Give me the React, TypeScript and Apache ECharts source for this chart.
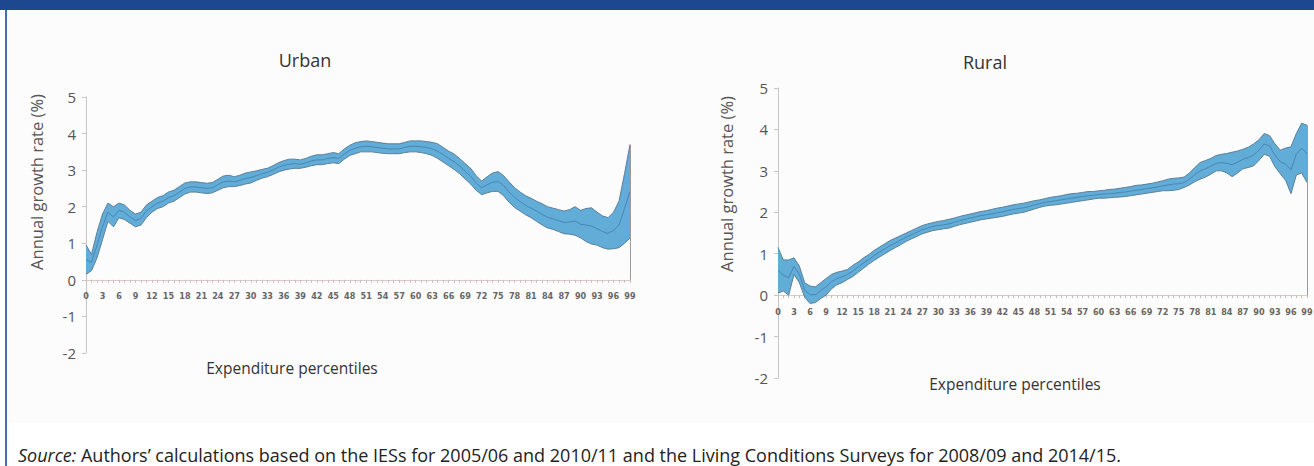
import React, { useEffect, useRef } from "react";
import * as echarts from "echarts";

// ---------- data ----------
const percentiles = [
  "0","1","2","3","4","5","6","7","8","9",
  "10","11","12","13","14","15","16","17","18","19",
  "20","21","22","23","24","25","26","27","28","29",
  "30","31","32","33","34","35","36","37","38","39",
  "40","41","42","43","44","45","46","47","48","49",
  "50","51","52","53","54","55","56","57","58","59",
  "60","61","62","63","64","65","66","67","68","69",
  "70","71","72","73","74","75","76","77","78","79",
  "80","81","82","83","84","85","86","87","88","89",
  "90","91","92","93","94","95","96","97","98","99",
];

const urbanLower = [
  0.15, 0.25, 0.6, 1.1, 1.6, 1.45, 1.7, 1.65, 1.55, 1.45,
  1.5, 1.7, 1.85, 1.95, 2.0, 2.1, 2.15, 2.25, 2.35, 2.4,
  2.4, 2.38, 2.36, 2.38, 2.45, 2.52, 2.55, 2.55, 2.58, 2.62,
  2.65, 2.72, 2.78, 2.82, 2.88, 2.95, 3.0, 3.03, 3.05, 3.05,
  3.08, 3.12, 3.15, 3.15, 3.18, 3.2, 3.18, 3.3, 3.4, 3.45,
  3.5, 3.5, 3.5, 3.48, 3.46, 3.45, 3.45, 3.45, 3.48, 3.5,
  3.5, 3.48, 3.45, 3.4, 3.32, 3.22, 3.12, 3.02, 2.9, 2.76,
  2.62, 2.45, 2.33, 2.38, 2.42, 2.42, 2.3, 2.12, 1.98, 1.88,
  1.78, 1.7, 1.6, 1.5, 1.42, 1.38, 1.32, 1.26, 1.25, 1.22,
  1.15, 1.05, 0.98, 0.95, 0.88, 0.84, 0.85, 0.88, 1.0, 1.14,
];
const urbanUpper = [
  0.95, 0.7, 1.3, 1.8, 2.1, 2.0, 2.1, 2.05, 1.9, 1.8,
  1.85, 2.05, 2.15, 2.25, 2.3, 2.4, 2.45, 2.55, 2.65, 2.68,
  2.68, 2.66, 2.64, 2.66, 2.75, 2.84, 2.86, 2.82, 2.86, 2.92,
  2.95, 2.98, 3.02, 3.05, 3.12, 3.2, 3.26, 3.3, 3.3, 3.28,
  3.32, 3.38, 3.42, 3.42, 3.45, 3.48, 3.45, 3.58, 3.68, 3.75,
  3.78, 3.8, 3.78, 3.76, 3.74, 3.72, 3.72, 3.72, 3.76, 3.8,
  3.8, 3.8, 3.78, 3.76, 3.72, 3.62, 3.52, 3.44, 3.32, 3.18,
  3.05, 2.85, 2.7, 2.82, 2.92, 2.96, 2.85, 2.68, 2.52, 2.4,
  2.3, 2.23, 2.15, 2.08, 2.0, 1.96, 1.92, 1.88, 1.92, 2.0,
  1.9, 1.95, 1.97, 1.85, 1.75, 1.7, 1.85, 2.15, 2.9, 3.7,
];
const urbanMid = [
  0.55, 0.48, 0.95, 1.45, 1.85, 1.72, 1.9, 1.85, 1.72, 1.62,
  1.68, 1.88, 2.0, 2.1, 2.15, 2.25, 2.3, 2.4, 2.5, 2.54,
  2.54, 2.52, 2.5, 2.52, 2.6, 2.68, 2.7, 2.68, 2.72, 2.77,
  2.8, 2.85, 2.9, 2.94, 3.0, 3.08, 3.13, 3.16, 3.18, 3.16,
  3.2, 3.25, 3.28, 3.28, 3.32, 3.34, 3.32, 3.44, 3.54, 3.6,
  3.64, 3.65, 3.64, 3.62, 3.6, 3.58, 3.58, 3.58, 3.62, 3.65,
  3.65, 3.64, 3.62, 3.58, 3.52, 3.42, 3.32, 3.23, 3.11, 2.97,
  2.83, 2.65, 2.52, 2.6, 2.67, 2.69, 2.58, 2.4, 2.25, 2.14,
  2.04, 1.96, 1.88, 1.79, 1.71, 1.67, 1.62, 1.57, 1.58, 1.61,
  1.52, 1.5, 1.47, 1.4, 1.32, 1.27, 1.35, 1.5, 1.95, 2.42,
];

const ruralLower = [
  0.05, 0.1, 0.0, 0.5, 0.3, -0.05, -0.2, -0.18, -0.08, 0.0,
  0.15, 0.25, 0.3, 0.38, 0.45, 0.55, 0.65, 0.75, 0.84, 0.92,
  1.0, 1.08, 1.15, 1.22, 1.3, 1.36, 1.42, 1.48, 1.52, 1.56,
  1.58, 1.6, 1.62, 1.66, 1.7, 1.73, 1.76, 1.79, 1.82, 1.84,
  1.86, 1.88, 1.9, 1.93, 1.96, 1.98, 2.0, 2.04, 2.08, 2.12,
  2.15, 2.17, 2.18, 2.2, 2.22, 2.24, 2.26, 2.28, 2.3, 2.32,
  2.34, 2.34, 2.35, 2.36, 2.37, 2.38, 2.4, 2.42, 2.44, 2.46,
  2.48, 2.5, 2.52, 2.52, 2.53, 2.55, 2.6, 2.66, 2.74, 2.8,
  2.85, 2.92, 3.0, 3.0, 2.95, 2.86, 2.95, 3.05, 3.08, 3.12,
  3.25, 3.4, 3.35, 3.1, 2.93, 2.77, 2.45, 2.9, 2.95, 2.72,
];
const ruralUpper = [
  1.15, 0.85, 0.85, 0.9, 0.7, 0.3, 0.22, 0.2, 0.3, 0.4,
  0.5, 0.55, 0.58, 0.62, 0.72, 0.8, 0.9, 0.98, 1.08, 1.16,
  1.24, 1.32, 1.38, 1.44, 1.5, 1.56, 1.62, 1.68, 1.72, 1.75,
  1.78, 1.8, 1.83, 1.86, 1.9, 1.93, 1.96, 1.99, 2.02, 2.04,
  2.07, 2.1, 2.12, 2.15, 2.18, 2.2, 2.22, 2.25, 2.28, 2.3,
  2.33, 2.36, 2.38, 2.4, 2.43, 2.45, 2.46, 2.48, 2.5, 2.5,
  2.52, 2.53, 2.55, 2.56, 2.58, 2.6, 2.62, 2.65, 2.66, 2.68,
  2.7, 2.73, 2.76, 2.8, 2.82, 2.83, 2.85, 2.95, 3.08, 3.2,
  3.25, 3.3, 3.37, 3.4, 3.42, 3.45, 3.48, 3.52, 3.57, 3.65,
  3.75, 3.9, 3.85, 3.65, 3.5, 3.55, 3.58, 3.9, 4.15, 4.1,
];
const ruralMid = [
  0.6, 0.48, 0.42, 0.7, 0.5, 0.12, 0.01, 0.01, 0.11, 0.2,
  0.32, 0.4, 0.44, 0.5, 0.58, 0.68, 0.78, 0.86, 0.96, 1.04,
  1.12, 1.2, 1.26, 1.33, 1.4, 1.46, 1.52, 1.58, 1.62, 1.66,
  1.68, 1.7, 1.72, 1.76, 1.8, 1.83, 1.86, 1.89, 1.92, 1.94,
  1.96, 1.99, 2.01, 2.04, 2.07, 2.09, 2.11, 2.14, 2.18, 2.21,
  2.24, 2.26, 2.28, 2.3, 2.32, 2.34, 2.36, 2.38, 2.4, 2.41,
  2.43, 2.44, 2.45, 2.46, 2.48, 2.49, 2.51, 2.53, 2.55, 2.57,
  2.59, 2.61, 2.64, 2.66, 2.68, 2.69, 2.72, 2.8, 2.91, 3.0,
  3.05, 3.11, 3.18, 3.2, 3.18, 3.15, 3.21, 3.28, 3.32, 3.38,
  3.5, 3.65, 3.6, 3.38, 3.22, 3.16, 3.02, 3.4, 3.55, 3.41,
];

const panelTitles = ["Urban", "Rural"];
const yAxisName = "Annual growth rate (%)";
const xAxisName = "Expenditure percentiles";
const sourceNote =
  "Authors\u2019 calculations based on the IESs for 2005/06 and 2010/11 and the Living Conditions Surveys for 2008/09 and 2014/15.";

// ---------- styling ----------
const FONT = "'Open Sans', 'Noto Sans', sans-serif";
const NARROW = "'Liberation Sans Narrow', 'DejaVu Sans Condensed', 'Liberation Sans', sans-serif";
const FILL = "#62acd8";
const EDGE = "#5a7f99";
const MIDC = "#4a86b3";

const panels = [
  { left: 86, right: 684, top: 97, bottom: 113 },
  { left: 778, right: 7, top: 88, bottom: 88 },
];
const H = 466;

function zeroBottom(p: { top: number; bottom: number }) {
  const plotH = H - p.top - p.bottom;
  const y0 = p.top + (plotH * 5) / 7;
  return H - y0;
}

function makeX(gridIndex: number) {
  return {
    type: "category",
    gridIndex,
    data: percentiles,
    boundaryGap: false,
    axisLine: { show: true, onZero: true, lineStyle: { color: "#d9c9c3", width: 1 } },
    axisTick: { show: true, interval: 0, length: 3, lineStyle: { color: "#cdbdb7" } },
    axisLabel: { show: false },
    splitLine: { show: false },
  };
}

function makeLabelX(gridIndex: number) {
  return {
    type: "category",
    gridIndex,
    data: percentiles,
    boundaryGap: false,
    position: "bottom",
    axisLine: { show: false },
    axisTick: { show: false },
    axisLabel: {
      interval: 2,
      fontSize: 9,
      fontWeight: "bold",
      color: "#666",
      margin: 12,
      fontFamily: NARROW,
    },
    splitLine: { show: false },
  };
}

function makeY(gridIndex: number) {
  return {
    type: "value",
    gridIndex,
    min: -2,
    max: 5,
    interval: 1,
    axisLine: { show: true, lineStyle: { color: "#c6c6c6", width: 1 } },
    axisTick: { show: true, length: 4, lineStyle: { color: "#c6c6c6" } },
    axisLabel: { color: "#555", fontSize: 15, margin: 10, fontFamily: FONT },
    splitLine: { show: false },
  };
}

function makeHiddenY(gridIndex: number) {
  return { type: "value", gridIndex, min: 0, max: 1, show: false };
}

function makeBand(idx: number, lower: number[], upper: number[], mid: number[]) {
  const stack = "band" + idx;
  const diff = upper.map((u, i) => +(u - lower[i]).toFixed(4));
  return [
    {
      type: "line",
      xAxisIndex: idx,
      yAxisIndex: idx,
      stack,
      stackStrategy: "all",
      data: lower,
      symbol: "none",
      lineStyle: { color: EDGE, width: 1 },
      z: 3,
    },
    {
      type: "line",
      xAxisIndex: idx,
      yAxisIndex: idx,
      stack,
      stackStrategy: "all",
      data: diff,
      symbol: "none",
      lineStyle: { color: EDGE, width: 1 },
      areaStyle: { color: FILL, opacity: 1 },
      z: 3,
    },
    {
      type: "line",
      xAxisIndex: idx,
      yAxisIndex: idx,
      data: mid,
      symbol: "none",
      lineStyle: { color: MIDC, width: 1 },
      z: 4,
      markLine: {
        silent: true,
        symbol: "none",
        label: { show: false },
        lineStyle: { color: "#9a9a9a", width: 1, type: "solid" },
        data: [
          [
            { coord: [percentiles[percentiles.length - 1], 0] },
            { coord: [percentiles[percentiles.length - 1], upper[upper.length - 1]] },
          ],
        ],
      },
    },
  ];
}

function text(x: number, y: number, t: string, size: number, fill: string, rotation = 0) {
  return {
    type: "text",
    x,
    y,
    rotation,
    style: { text: t, align: "center", verticalAlign: "middle", fontSize: size, fill, fontFamily: FONT },
  };
}

export default function App() {
  const ref = useRef<HTMLDivElement>(null);

  useEffect(() => {
    document.body.style.margin = "0";
    if (!ref.current) return;
    const chart = echarts.init(ref.current, null, { renderer: "svg" });
    const option: any = {
      animation: false,
      backgroundColor: "transparent",
      grid: [
        { ...panels[0], containLabel: false, outerBoundsMode: "none" },
        { ...panels[1], containLabel: false, outerBoundsMode: "none" },
        { left: panels[0].left, right: panels[0].right, top: panels[0].top, bottom: zeroBottom(panels[0]), containLabel: false, outerBoundsMode: "none" },
        { left: panels[1].left, right: panels[1].right, top: panels[1].top, bottom: zeroBottom(panels[1]), containLabel: false, outerBoundsMode: "none" },
      ],
      xAxis: [makeX(0), makeX(1), makeLabelX(2), makeLabelX(3)],
      yAxis: [makeY(0), makeY(1), makeHiddenY(2), makeHiddenY(3)],
      series: [
        ...makeBand(0, urbanLower, urbanUpper, urbanMid),
        ...makeBand(1, ruralLower, ruralUpper, ruralMid),
      ],
      graphic: [
        text(305, 60, panelTitles[0], 18, "#333"),
        text(985, 62, panelTitles[1], 18, "#333"),
        text(36, 182, yAxisName, 16.5, "#555", Math.PI / 2),
        text(726, 184, yAxisName, 16.5, "#555", Math.PI / 2),
        text(292, 368, xAxisName, 15.5, "#333"),
        text(1015, 384, xAxisName, 15.5, "#333"),
        {
          type: "text",
          x: 18,
          y: 455,
          style: {
            text: "{i|Source:} " + sourceNote,
            verticalAlign: "middle",
            fontSize: 18,
            fill: "#222",
            fontFamily: FONT,
            rich: { i: { fontStyle: "italic", fontSize: 18, fill: "#222", fontFamily: FONT } },
          },
        },
      ],
    };
    chart.setOption(option);
    return () => chart.dispose();
  }, []);

  return (
    <div style={{ position: "fixed", left: 0, top: 0, width: 1314, height: 466, background: "#ffffff", overflow: "hidden" }}>
      <div style={{ position: "absolute", left: 0, top: 0, width: 1314, height: 10, background: "#1d4890" }} />
      <div style={{ position: "absolute", left: 6, top: 10, width: 1308, height: 413, background: "#fcfcfc" }} />
      <div style={{ position: "absolute", left: 5, top: 10, width: 2, height: 456, background: "#4a6db0" }} />
      <div ref={ref} style={{ position: "absolute", left: 0, top: 0, width: 1314, height: 466 }} />
    </div>
  );
}
